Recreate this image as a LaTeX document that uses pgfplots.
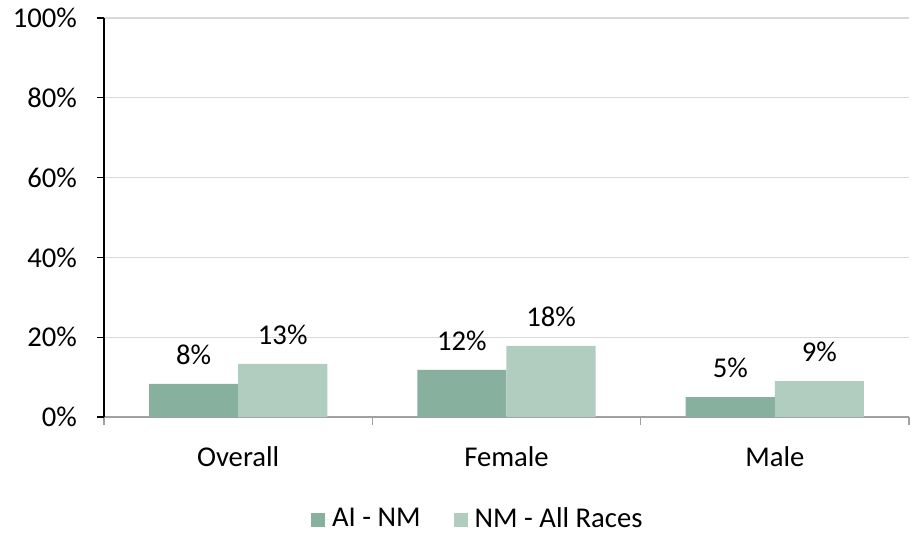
\documentclass[border=0pt]{standalone}
\usepackage{pgfplots}
\pgfplotsset{compat=1.18}
\usepackage{fontspec}
\setmainfont{Carlito}
\definecolor{darkg}{RGB}{135,176,158}
\definecolor{lightg}{RGB}{177,205,191}
\definecolor{gridc}{RGB}{217,217,217}
\definecolor{axisg}{RGB}{160,160,160}
\newcommand{\lblfont}{\fontsize{21.5}{25}\selectfont}
\begin{document}
\lblfont
\begin{tikzpicture}
\useasboundingbox (-78pt,-87pt) rectangle (608.25pt,312.75pt);
\begin{axis}[
  at={(0,0)}, anchor=south west,
  scale only axis,
  width=603.75pt, height=299.25pt,
  ybar=0pt, bar width=0.332,
  xmin=-0.5, xmax=2.5,
  ymin=0, ymax=100,
  axis x line*=bottom, axis y line*=left,
  x axis line style={draw=axisg, line width=1pt, -},
  y axis line style={draw=black, line width=1pt, -},
  xtick={0,1,2},
  xticklabels={Overall,Female,Male},
  major x tick style={draw=none},
  minor xtick={-0.5,0.5,1.5,2.5},
  minor x tick style={draw=axisg, line width=1pt},
  minor tick length=6pt,
  ytick={0,20,40,60,80,100},
  yticklabel={\pgfmathprintnumber{\tick}\%},
  y tick style={draw=black, line width=1pt},
  major tick length=5pt,
  tick align=outside,
  ymajorgrids, grid style={draw=gridc, line width=1pt},
  /pgf/number format/assume math mode=true,
  tick label style={font=\lblfont},
  xticklabel style={yshift=-10pt},
  yticklabel style={xshift=-8pt},
  nodes near coords={\pgfmathprintnumber[fixed,precision=0]{\pgfplotspointmeta}\%},
  nodes near coords style={font=\lblfont, anchor=south, inner sep=0pt, yshift=14pt, text=black},
  legend columns=2,
  legend style={at={(axis description cs:0.465,-0.258)}, anchor=center, draw=none, fill=none,
    font=\lblfont, /tikz/every even column/.append style={column sep=23pt}},
  legend image code/.code={\fill[#1] (0pt,-5.25pt) rectangle (10.5pt,5.25pt);\path (0pt,0pt) -- (13.5pt,0pt);},
]
\addplot[fill=darkg, draw=none] coordinates {(0,8.3) (1,11.8) (2,5.0)};
\addplot[fill=lightg, draw=none] coordinates {(0,13.3) (1,17.8) (2,9.0)};
\legend{AI - NM, NM - All Races}
\end{axis}
\end{tikzpicture}
\end{document}
